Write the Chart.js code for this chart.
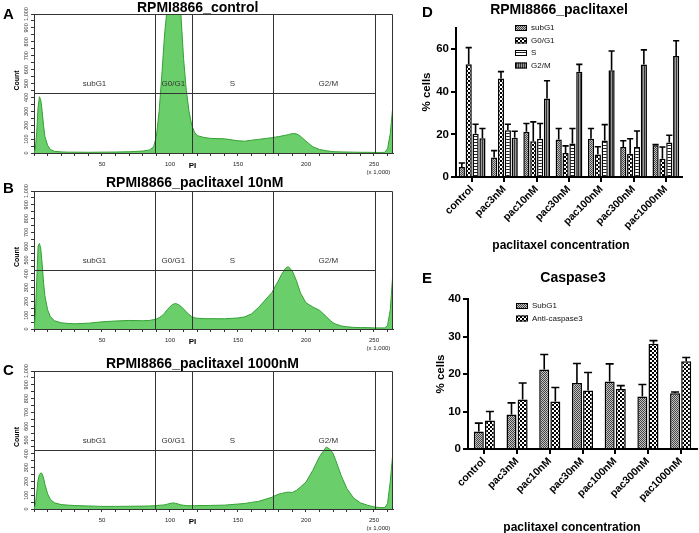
<!DOCTYPE html>
<html>
<head>
<meta charset="utf-8">
<script src="https://cdn.jsdelivr.net/npm/chart.js@4.4.0/dist/chart.umd.min.js"></script>
<style>
  body { margin: 0; background: #fff; }
  #quadro { position: relative; width: 699px; height: 533px; overflow: hidden; font-family: "Liberation Sans", Arial, sans-serif; }
  #quadro canvas { position: absolute; }
  .txt { position: absolute; white-space: nowrap; line-height: 1; color: #000; font-weight: bold; }
  .letra { font-size: 15px; }
  .titulo { font-size: 14px; }
  .centro { transform: translateX(-50%); }
  .eixo { font-size: 12px; }
  .rot { font-size: 11.5px; transform: translate(-50%, -50%) rotate(-90deg); }
</style>
</head>
<body>
<div id="quadro">
  <canvas id="histA" width="400" height="178" style="left:0;top:0"></canvas>
  <canvas id="histB" width="400" height="178" style="left:0;top:177px"></canvas>
  <canvas id="histC" width="400" height="176" style="left:0;top:357px"></canvas>
  <canvas id="graficoD" width="299" height="260" style="left:400px;top:0"></canvas>
  <canvas id="graficoE" width="299" height="273" style="left:400px;top:260px"></canvas>

  <div class="txt letra" style="left:3px;top:6px">A</div>
  <div class="txt letra" style="left:3px;top:180px">B</div>
  <div class="txt letra" style="left:3px;top:362px">C</div>
  <div class="txt letra" style="left:422px;top:4px">D</div>
  <div class="txt letra" style="left:422px;top:270px">E</div>

  <div class="txt titulo" style="left:137px;top:0">RPMI8866_control</div>
  <div class="txt titulo" style="left:106px;top:175px">RPMI8866_paclitaxel 10nM</div>
  <div class="txt titulo" style="left:106px;top:356px">RPMI8866_paclitaxel 1000nM</div>
  <div class="txt titulo centro" style="left:559px;top:2px">RPMI8866_paclitaxel</div>
  <div class="txt titulo centro" style="left:573px;top:270px">Caspase3</div>

  <div class="txt eixo centro" style="left:561px;top:239px">paclitaxel concentration</div>
  <div class="txt eixo centro" style="left:572px;top:521px">paclitaxel concentration</div>
  <div class="txt rot" style="left:427px;top:92px">% cells</div>
  <div class="txt rot" style="left:441px;top:374px">% cells</div>
</div>

<script>
// dados dos histogramas (eixo PI em milhares, contagem de células)
const binsPI = [0,1,2,3,4,5,6,7,8,10,12,15,20,25,30,40,50,60,70,80,85,88,90,92,94,96,98,100,102,104,106,108,110,112,114,116,118,120,125,130,140,150,155,160,165,170,175,178,180,182,185,187,190,193,196,200,205,210,215,218,220,222,226,230,235,240,245,250,255,258,260,262,264];
const contagemControle = [0,30,150,330,405,380,300,200,120, 55,25,12, 8,6,6, 5,6,7,9,14, 22,45,
  120,300,560,850,1050,1250,1350,1300,1150,1000,680,450,300,200,150, 125,112,105,
  102,88,85,92,98,104,110, 115,118,122,128,132, 140,138,120, 85,45,25,16,12,
  10,9,8,7,6, 5,5,4,4,5, 30,140,350];
const contagem10nM = [0,100,350,600,620,580,470,340,240, 140,90,60, 45,40,38, 42,52,58,62,60, 62,68,
  72,82,95,115,140,162,178,185,178,165,145,125,105,90,82, 78,75,75,
  74,80,88,110,155,210,265, 320,355,395,440,452, 420,350,260, 190,160,135,90,60,
  45,35,22,16,12, 10,10,8,8,8, 25,140,420];
const contagem1000nM = [0,30,120,210,250,262,255,225,180, 110,70,45, 32,28,25, 22,19,19,20,21, 22,24,
  25,27,28,30,35,40,44,42,36,30,27,25,24,24,24, 25,25,26,
  28,36,40,48,55,70,85, 100,108,112,120,122, 120,135,160, 195,280,380,450,430,
  400,350,240,150,80, 45,28,15,10,10, 40,200,420];
const ticksPI = [0,10,20,30,40,50,60,70,80,90,100,110,120,130,140,150,160,170,180,190,200,210,220,230,240,250,260];
const rotulosPI = [50,100,150,200,250];
const ticksContagem = [0,100,200,300,400,500,600,700,800,900,1000];

// gates do citômetro
const limitesGate = [0, 89, 116, 176, 251];
const nomesGate = ['subG1', 'G0/G1', 'S', 'G2/M'];
const nivelGate = 430;

// painel D: fases do ciclo celular (média e barra de erro)
const concentracoes = ['control','pac3nM','pac10nM','pac30nM','pac100nM','pac300nM','pac1000nM'];
const subG1Media = [4.7, 9.2, 21.2, 17.6, 18.0, 14.1, 14.9];
const subG1Erro  = [1.9, 3.2, 3.9, 5.2, 4.8, 2.9, 0.3];
const g0g1Media  = [53.0, 46.3, 16.8, 11.3, 10.6, 10.9, 8.6];
const g0g1Erro   = [7.8, 3.2, 9.1, 3.3, 3.6, 7.1, 5.5];
const sMedia     = [20.3, 22.0, 18.0, 15.7, 17.2, 14.1, 16.2];
const sErro      = [4.5, 2.8, 7.1, 7.1, 7.4, 7.5, 3.4];
const g2mMedia   = [18.2, 18.4, 36.9, 49.5, 50.1, 52.9, 56.8];
const g2mErro    = [4.6, 3.1, 8.3, 3.4, 9.1, 6.8, 7.2];
const ticksD = [0, 20, 40, 60];

// painel E: caspase3
const caspSubG1Media = [4.7, 9.2, 21.2, 17.6, 18.0, 14.0, 14.9];
const caspSubG1Erro  = [2.2, 3.1, 4.0, 5.2, 4.7, 3.2, 0.3];
const antiCasp3Media = [7.6, 13.2, 12.7, 15.6, 16.0, 28.1, 23.4];
const antiCasp3Erro  = [2.4, 4.4, 3.7, 4.8, 0.9, 0.8, 1.0];
const ticksE = [0, 10, 20, 30, 40];

const fonte = '"Liberation Sans", Arial, sans-serif';
Chart.defaults.font.family = fonte;
Chart.defaults.color = '#000';

// texturas das barras (estilo GraphPad)
const criarPadrao = (w, h, pintar) => {
    const c = document.createElement('canvas');
    c.width = w; c.height = h;
    const g = c.getContext('2d');
    pintar(g);
    return g.createPattern(c, 'repeat');
};
const padraoFino = criarPadrao(2, 2, (g) => {
    g.fillStyle = '#c4c4c4'; g.fillRect(0, 0, 2, 2);
    g.fillStyle = '#444'; g.fillRect(0, 0, 1, 1); g.fillRect(1, 1, 1, 1);
});
const padraoXadrez = criarPadrao(4, 4, (g) => {
    g.fillStyle = '#fff'; g.fillRect(0, 0, 4, 4);
    g.fillStyle = '#000'; g.fillRect(0, 0, 2, 2); g.fillRect(2, 2, 2, 2);
});
const padraoHorizontal = criarPadrao(1, 3, (g) => {
    g.fillStyle = '#fff'; g.fillRect(0, 0, 1, 3);
    g.fillStyle = '#222'; g.fillRect(0, 1, 1, 1);
});
const padraoVertical = criarPadrao(2, 1, (g) => {
    g.fillStyle = '#9a9a9a'; g.fillRect(0, 0, 2, 1);
    g.fillStyle = '#333'; g.fillRect(0, 0, 1, 1);
});

// plugin que desenha a moldura, os gates e os nomes das fases
const pluginGates = {
    id: 'gates',
    afterDatasetsDraw(chart) {
        const {ctx, chartArea: a, scales: {x, y}} = chart;
        ctx.save();
        ctx.strokeStyle = '#333';
        ctx.lineWidth = 1;
        ctx.beginPath();
        ctx.moveTo(a.left, a.top + 0.5); ctx.lineTo(a.right - 0.5, a.top + 0.5); ctx.lineTo(a.right - 0.5, a.bottom);
        limitesGate.slice(1).forEach((v) => {
            const px = Math.round(x.getPixelForValue(v)) + 0.5;
            ctx.moveTo(px, a.top); ctx.lineTo(px, a.bottom);
        });
        const py = Math.round(y.getPixelForValue(nivelGate)) + 0.5;
        ctx.moveTo(a.left, py); ctx.lineTo(Math.round(x.getPixelForValue(limitesGate[4])) + 0.5, py);
        ctx.stroke();
        ctx.fillStyle = '#333';
        ctx.font = '8px ' + fonte;
        ctx.textAlign = 'center';
        ctx.textBaseline = 'middle';
        nomesGate.forEach((nome, i) => {
            const cx = x.getPixelForValue((limitesGate[i] + limitesGate[i + 1]) / 2);
            ctx.fillText(nome, cx + (i === 3 ? 4 : 0), py - 10);
        });
        ctx.restore();
    }
};

// plugin dos textos pequenos do eixo (rótulos girados, Count, PI)
const pluginTextoHist = {
    id: 'textoHist',
    afterDraw(chart) {
        const {ctx, chartArea: a, scales: {x, y}} = chart;
        ctx.save();
        ctx.textAlign = 'center';
        ctx.textBaseline = 'middle';
        ctx.fillStyle = '#333';
        ctx.font = '5.5px ' + fonte;
        ticksContagem.forEach((v) => {
            ctx.save();
            ctx.translate(a.left - 7.5, y.getPixelForValue(v));
            ctx.rotate(-Math.PI / 2);
            ctx.fillText(v.toLocaleString('en-US'), 0, 0);
            ctx.restore();
        });
        ctx.fillStyle = '#000';
        ctx.font = 'bold 7px ' + fonte;
        ctx.save();
        ctx.translate(a.left - 17, (a.top + a.bottom) / 2 - 3);
        ctx.rotate(-Math.PI / 2);
        ctx.fillText('Count', 0, 0);
        ctx.restore();
        ctx.font = 'bold 8px ' + fonte;
        ctx.fillText('PI', a.left + 158.5, a.bottom + 12.5);
        ctx.fillStyle = '#222';
        ctx.font = '6px ' + fonte;
        ctx.fillText('(x 1,000)', x.getPixelForValue(250) + 4.5, a.bottom + 19.5);
        ctx.restore();
    }
};

// cria um histograma de PI
const criarHistograma = (id, contagem, alturaX) => {
    new Chart(document.getElementById(id), {
        type: 'line',
        data: {
            datasets: [{
                data: binsPI.map((v, i) => ({x: v, y: contagem[i]})),
                fill: 'origin',
                backgroundColor: 'rgb(106, 206, 106)',
                borderColor: 'rgb(52, 160, 52)',
                borderWidth: 1,
                pointRadius: 0,
                tension: 0,
                clip: 0,
            }],
        },
        options: {
            responsive: false,
            animation: false,
            layout: {padding: {top: 14, right: 7, left: 0, bottom: 0}},
            plugins: {legend: {display: false}, tooltip: {enabled: false}},
            scales: {
                x: {
                    type: 'linear', min: 0, max: 264,
                    afterBuildTicks: (s) => { s.ticks = ticksPI.map((v) => ({value: v})); },
                    afterFit: (s) => { s.height = alturaX; },
                    border: {color: '#333', width: 1},
                    grid: {drawOnChartArea: false, tickLength: 3, color: '#333'},
                    ticks: {
                        autoSkip: false, maxRotation: 0, padding: 5,
                        font: {size: 6}, color: '#222',
                        callback: (v) => (rotulosPI.includes(v) ? String(v) : ''),
                    },
                },
                y: {
                    min: 0, max: 1000,
                    afterFit: (s) => { s.width = 34; },
                    border: {color: '#333', width: 1},
                    grid: {drawOnChartArea: false, tickLength: 3, color: '#333'},
                    ticks: {stepSize: 50, display: false},
                },
            },
        },
        plugins: [pluginGates, pluginTextoHist],
    });
};

// barras de erro só para cima, com capa
const pluginErro = {
    id: 'barrasErro',
    afterDatasetsDraw(chart, args, opts) {
        const {ctx} = chart;
        const y = chart.scales.y;
        ctx.save();
        ctx.strokeStyle = '#000';
        ctx.lineWidth = 1.6;
        chart.data.datasets.forEach((ds, di) => {
            chart.getDatasetMeta(di).data.forEach((barra, i) => {
                const topo = y.getPixelForValue(ds.data[i] + ds.erros[i]);
                const meia = (barra.width * opts.capa) / 2;
                ctx.beginPath();
                ctx.moveTo(barra.x, barra.y);
                ctx.lineTo(barra.x, topo);
                ctx.moveTo(barra.x - meia, topo);
                ctx.lineTo(barra.x + meia, topo);
                ctx.stroke();
            });
        });
        ctx.restore();
    }
};

// legenda com as texturas
const pluginLegenda = {
    id: 'legendaTextura',
    afterDraw(chart, args, opts) {
        const {ctx} = chart;
        ctx.save();
        ctx.font = '8px ' + fonte;
        ctx.textBaseline = 'middle';
        chart.data.datasets.forEach((ds, i) => {
            const yy = opts.y + i * opts.passo;
            ctx.fillStyle = ds.backgroundColor;
            ctx.fillRect(opts.x, yy - 3, 12, 6);
            ctx.strokeStyle = '#000';
            ctx.lineWidth = 1;
            ctx.strokeRect(opts.x + 0.5, yy - 2.5, 11, 5);
            ctx.fillStyle = '#111';
            ctx.fillText(ds.label, opts.x + 16, yy);
        });
        ctx.restore();
    }
};

// cria um gráfico de barras agrupadas
const criarGraficoBarras = (id, datasets, cfg) => {
    new Chart(document.getElementById(id), {
        type: 'bar',
        data: {labels: concentracoes, datasets},
        options: {
            responsive: false,
            animation: false,
            layout: {padding: {top: cfg.topo, right: cfg.direita, left: 0, bottom: 0}},
            datasets: {bar: {categoryPercentage: cfg.categoria, barPercentage: 0.9}},
            plugins: {
                legend: {display: false},
                tooltip: {enabled: false},
                barrasErro: {capa: cfg.capa},
                legendaTextura: cfg.legenda,
            },
            scales: {
                x: {
                    offset: true,
                    afterFit: (s) => { s.height = cfg.alturaX; },
                    border: {color: '#000', width: 2},
                    grid: {offset: false, drawOnChartArea: false, tickLength: 5, lineWidth: 2, color: '#000'},
                    ticks: {minRotation: 45, maxRotation: 45, autoSkip: false, padding: 1, font: {size: 10.5, weight: 'bold'}},
                },
                y: {
                    min: 0, max: cfg.maxY,
                    afterBuildTicks: (s) => { s.ticks = cfg.ticks.map((v) => ({value: v})); },
                    afterFit: (s) => { s.width = cfg.larguraY; },
                    border: {color: '#000', width: 2},
                    grid: {drawOnChartArea: false, tickLength: 5, lineWidth: 2, color: '#000'},
                    ticks: {padding: 2, font: {size: 11.5, weight: 'bold'}},
                },
            },
        },
        plugins: [pluginErro, pluginLegenda],
    });
};

const barra = (label, data, erros, fundo) => ({
    label, data, erros,
    backgroundColor: fundo,
    borderColor: '#000',
    borderWidth: 1.5,
});

criarHistograma('histA', contagemControle, 25);
criarHistograma('histB', contagem10nM, 26);
criarHistograma('histC', contagem1000nM, 24);

criarGraficoBarras('graficoD', [
    barra('subG1', subG1Media, subG1Erro, padraoFino),
    barra('G0/G1', g0g1Media, g0g1Erro, padraoXadrez),
    barra('S', sMedia, sErro, padraoHorizontal),
    barra('G2/M', g2mMedia, g2mErro, padraoVertical),
], {topo: 28, direita: 17, larguraY: 56, alturaX: 83, maxY: 70, ticks: ticksD, categoria: 0.85, capa: 1.0,
    legenda: {x: 115, y: 28, passo: 12.5}});

criarGraficoBarras('graficoE', [
    barra('SubG1', caspSubG1Media, caspSubG1Erro, padraoFino),
    barra('Anti-caspase3', antiCasp3Media, antiCasp3Erro, padraoXadrez),
], {topo: 39, direita: 2, larguraY: 68, alturaX: 84, maxY: 40, ticks: ticksE, categoria: 0.68, capa: 0.8,
    legenda: {x: 116, y: 46, passo: 12.5}});
</script>
</body>
</html>
